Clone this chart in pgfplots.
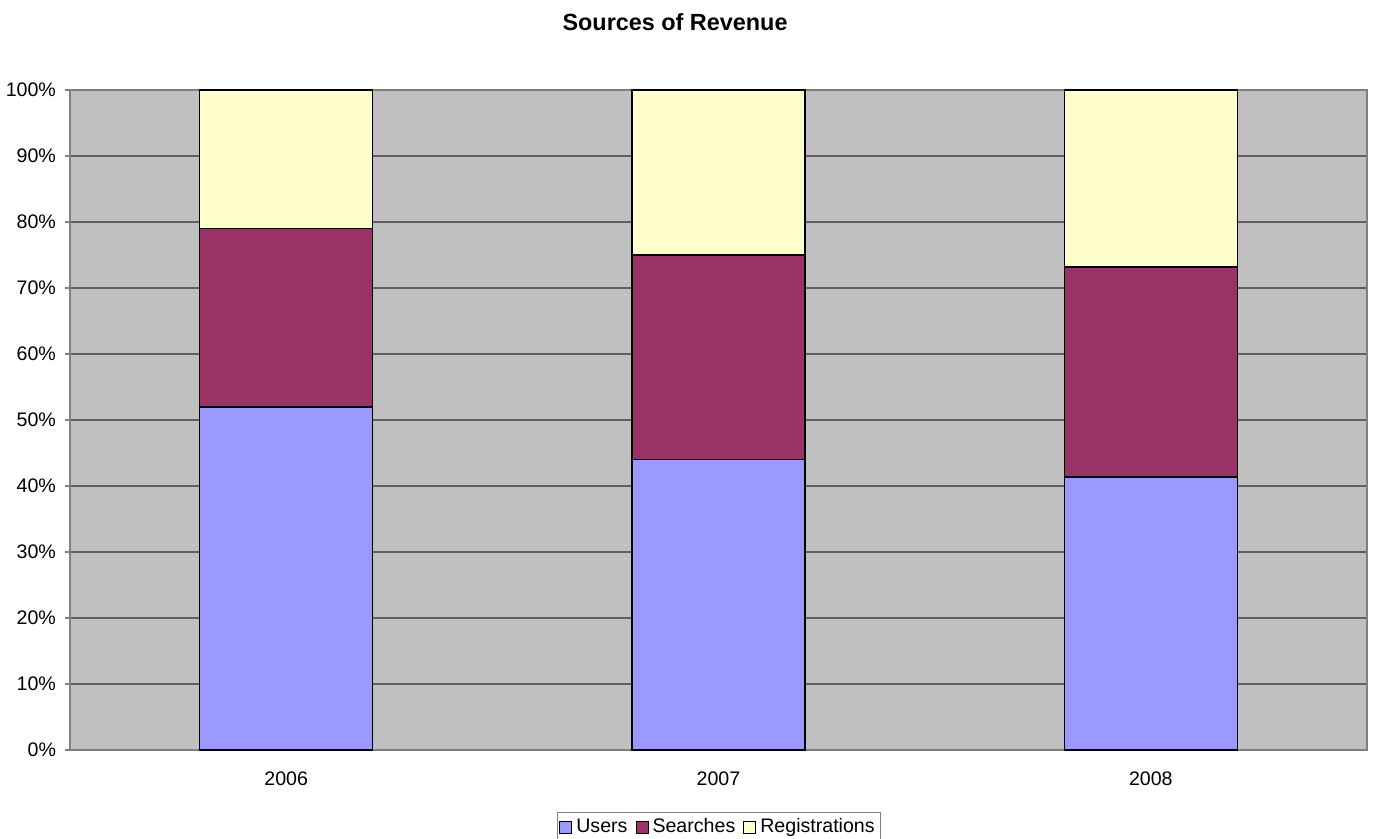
\documentclass[border=0pt]{standalone}
\usepackage{pgfplots}
\pgfplotsset{compat=1.18}
\usetikzlibrary{calc}
\usepackage{fontspec}
\setmainfont{Liberation Sans}
\definecolor{users}{HTML}{9999FF}
\definecolor{searches}{HTML}{993366}
\definecolor{regs}{HTML}{FFFFCC}
\definecolor{plotbg}{HTML}{C0C0C0}
\definecolor{gridc}{HTML}{606060}
\definecolor{axc}{HTML}{808080}
\begin{document}
\begin{tikzpicture}
\begin{axis}[
    name=ax,
    scale only axis,
    width=648.5pt, height=330pt,
    ybar stacked,
    bar width=86.5pt,
    xmin=-0.5, xmax=2.5,
    ymin=0, ymax=100,
    ytick={0,10,...,100},
    yticklabel={\pgfmathprintnumber{\tick}\%},
    /pgf/number format/assume math mode=true,
    xtick={0,1,2},
    xticklabels={2006,2007,2008},
    major x tick style={draw=none},
    extra x ticks={-0.5,0.5,1.5,2.5},
    extra x tick labels={},
    extra x tick style={grid=none, major tick length=2.5pt, tick style={draw=axc}},
    tick align=outside,
    tick pos=left,
    major tick length=2.5pt,
    tick style={draw=axc, line width=0.6pt},
    ymajorgrids,
    grid style={draw=gridc, line width=0.6pt},
    axis background/.style={fill=plotbg},
    axis line style={draw=axc, line width=0.6pt},
    ticklabel style={font=\fontsize{9.8}{11}\selectfont},
    yticklabel style={xshift=-1pt},
    xticklabel style={yshift=-5pt},
    legend style={at={(0.5004,-0.094)}, anchor=north, draw=axc, line width=0.5pt,
        font=\fontsize{9.8}{11}\selectfont, legend columns=3,
        /tikz/every even column/.append style={column sep=2pt},
        inner sep=1pt},
    legend image code/.code={\draw[#1, line width=0.5pt] (0pt,-3pt) rectangle (6pt,3pt);},
    legend cell align=left,
    clip=false,
]
\addplot[fill=users, draw=black, line width=0.8pt] coordinates {(0,52) (1,44) (2,41.4)};
\addplot[fill=searches, draw=black, line width=0.8pt] coordinates {(0,27) (1,31) (2,31.8)};
\addplot[fill=regs, draw=black, line width=0.8pt] coordinates {(0,21) (1,25) (2,26.8)};
\legend{Users,Searches,Registrations}
\node[font=\bfseries\fontsize{11.7}{13}\selectfont, yshift=34pt] at (rel axis cs:0.4665,1) {Sources of Revenue};
\end{axis}
\pgfresetboundingbox
\path ($(ax.south west)+(-35pt,-44.5pt)$) rectangle ($(ax.north east)+(5pt,45pt)$);
\end{tikzpicture}
\end{document}
